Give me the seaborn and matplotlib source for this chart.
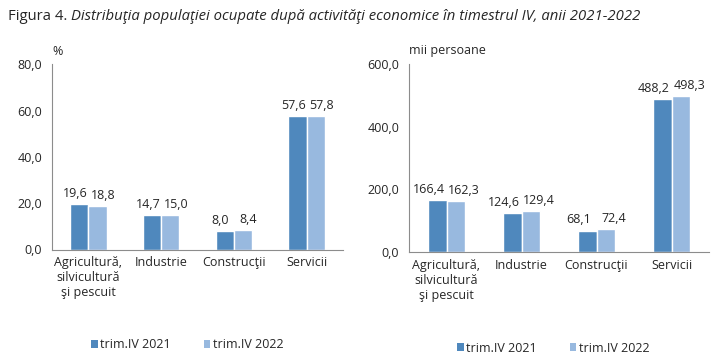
import pandas as pd
import matplotlib.pyplot as plt
import seaborn as sns
from matplotlib.patches import Patch
from matplotlib.ticker import FixedLocator

categories = ['Agricultură,\nsilvicultură\nşi pescuit', 'Industrie', 'Construcţii', 'Servicii']
series = ['trim.IV 2021', 'trim.IV 2022']
pct_2021 = [19.6, 14.7, 8.0, 57.6]
pct_2022 = [18.8, 15.0, 8.4, 57.8]
abs_2021 = [166.4, 124.6, 68.1, 488.2]
abs_2022 = [162.3, 129.4, 72.4, 498.3]
colors = ['#4f88bd', '#98b9df']

sns.set_style('white')
plt.rcParams['font.family'] = ['Open Sans', 'DejaVu Sans']
plt.rcParams['font.size'] = 9
plt.rcParams['text.color'] = '#262626'

fig = plt.figure(figsize=(7.28, 3.57), dpi=100)


def fmt(v):
    return f'{v:.1f}'.replace('.', ',')


def draw(ax, v1, v2, ymax, step, unit, leg_y, leg_x, shifts):
    df = pd.DataFrame({
        'cat': categories * 2,
        'serie': [series[0]] * 4 + [series[1]] * 4,
        'val': v1 + v2,
    })
    sns.barplot(data=df, x='cat', y='val', hue='serie', palette=colors,
                width=0.5, saturation=1, ax=ax, legend=False)
    # labels pushed apart a bit, like excel does
    for cont, dx in zip(ax.containers, shifts):
        for rect, v in zip(cont, cont.datavalues):
            ax.annotate(fmt(v), (rect.get_x() + rect.get_width() / 2, rect.get_height()),
                        xytext=(dx, 3), textcoords='offset points',
                        ha='center', va='bottom', fontsize=9, color='#262626')
    ax.set_ylim(0, ymax)
    ax.set_xlim(-0.5, 3.5)
    yt = list(range(0, ymax + 1, step))
    ax.set_yticks(yt)
    ax.set_yticklabels([fmt(t) for t in yt])
    ax.xaxis.set_minor_locator(FixedLocator([-0.5, 0.5, 1.5, 2.5, 3.5]))
    ax.tick_params(axis='x', which='major', length=0, pad=5, labelsize=9)
    ax.tick_params(axis='x', which='minor', length=5, color='#8c8c8c', width=0.8)
    ax.tick_params(axis='y', length=4, color='#8c8c8c', width=0.8, labelsize=9, pad=3)
    ax.set_xlabel('')
    ax.set_ylabel('')
    for s in ['top', 'right']:
        ax.spines[s].set_visible(False)
    for s in ['left', 'bottom']:
        ax.spines[s].set_color('#8c8c8c')
        ax.spines[s].set_linewidth(0.8)
    ax.text(0, 1.035, unit, transform=ax.transAxes, ha='left', va='bottom', fontsize=9)
    handles = [Patch(facecolor=c, edgecolor='none') for c in colors]
    fig.legend(handles, series, loc='center left', bbox_to_anchor=(leg_x, leg_y),
               ncol=2, frameon=False, fontsize=9, handlelength=0.55, handleheight=0.55,
               handletextpad=0.2, columnspacing=2.6, borderaxespad=0, borderpad=0)


ax1 = fig.add_axes([52 / 728, 1 - 249.5 / 357, 291 / 728, (249.5 - 64.3) / 357])
draw(ax1, pct_2021, pct_2022, 80, 20, '%', 1 - 345 / 357, 91 / 728, (-3, 4))
ax2 = fig.add_axes([409 / 728, 1 - 252 / 357, 300 / 728, (252 - 64) / 357])
draw(ax2, abs_2021, abs_2022, 600, 200, 'mii persoane', 1 - 348 / 357, 457 / 728, (-6, 6))

t1 = fig.text(8 / 728, 1 - 16 / 357, 'Figura 4. ', fontsize=10.7, va='center')
fig.canvas.draw()
bb = t1.get_window_extent()
fig.text(bb.x1 / 728, 1 - 16 / 357,
         'Distribuţia populaţiei ocupate după activităţi economice în timestrul IV, anii 2021-2022',
         fontsize=10.7, va='center', style='italic')

plt.savefig('out.png', dpi=100)
plt.close()
